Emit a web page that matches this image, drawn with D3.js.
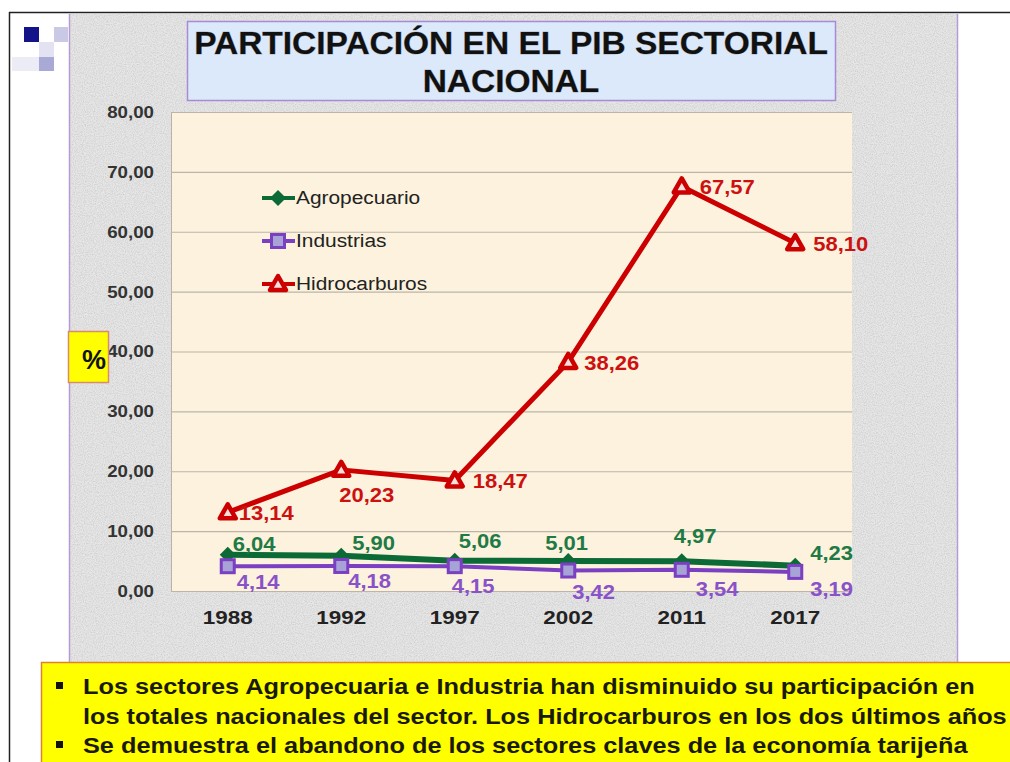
<!DOCTYPE html>
<html>
<head>
<meta charset="utf-8">
<script src="https://cdn.jsdelivr.net/npm/d3@7"></script>
<style>
  body { margin: 0; background: #fff; }
  svg { display: block; font-family: "Liberation Sans", Arial, sans-serif; }
</style>
</head>
<body>
<div id="chart"></div>
<script>
const years = ["1988", "1992", "1997", "2002", "2011", "2017"];
const agropecuario = [6.04, 5.90, 5.06, 5.01, 4.97, 4.23];
const industrias = [4.14, 4.18, 4.15, 3.42, 3.54, 3.19];
const hidrocarburos = [13.14, 20.23, 18.47, 38.26, 67.57, 58.10];
const yTicks = [0, 10, 20, 30, 40, 50, 60, 70, 80];
const titleLines = ["PARTICIPACIÓN EN EL PIB SECTORIAL", "NACIONAL"];
const notes = [
  ["Los sectores Agropecuaria e Industria han disminuido su participación en",
   "los totales nacionales del sector. Los Hidrocarburos en los dos últimos años"],
  ["Se demuestra el abandono de los sectores claves de la economía tarijeña"]
];

// label nudges (px) per point, picked by eye
const nudgeAgro = [[5, -11], [11, -13], [4, -20], [-23, -18], [-8, -25], [15, -13]];
const nudgeInd = [[9, 16], [7, 15], [-3, 20], [4, 21], [14, 19], [15, 17]];
const nudgeHid = [[11, 1], [-2, 25], [18, 1], [16, 1], [18, 1], [18, 1]];

const W = 1010, H = 762;
const locale = d3.formatLocale({ decimal: ",", thousands: ".", grouping: [3], currency: ["", ""] });
const fmt = locale.format(".2f");

// the source slide is a bit wider than tall, text reads stretched
function stretch(sel, sx) {
  sel.each(function () {
    const len = this.getComputedTextLength();
    d3.select(this).attr("textLength", len * sx).attr("lengthAdjust", "spacingAndGlyphs");
  });
}

const svg = d3.select("#chart").append("svg").attr("width", W).attr("height", H);

const defs = svg.append("defs");
const grain = defs.append("filter").attr("id", "grain").attr("x", 0).attr("y", 0).attr("width", 1).attr("height", 1);
grain.append("feTurbulence").attr("type", "fractalNoise").attr("baseFrequency", 0.9).attr("numOctaves", 2).attr("seed", 3).attr("result", "n");
grain.append("feColorMatrix").attr("in", "n").attr("type", "matrix")
  .attr("values", "0 0 0 0 0.6  0 0 0 0 0.6  0 0 0 0 0.6  0 0 0 -1.8 1.15").attr("result", "g");
grain.append("feComposite").attr("in", "g").attr("in2", "SourceGraphic").attr("operator", "in").attr("result", "g2");
grain.append("feMerge").call(m => { m.append("feMergeNode").attr("in", "SourceGraphic"); m.append("feMergeNode").attr("in", "g2"); });

// slide frame
svg.append("line").attr("x1", 9).attr("x2", W).attr("y1", 12.5).attr("y2", 12.5).attr("stroke", "#222").attr("stroke-width", 1.5);
svg.append("line").attr("x1", 9.5).attr("x2", 9.5).attr("y1", 12).attr("y2", H).attr("stroke", "#222").attr("stroke-width", 1.5);

// logo squares
[[24, 27, 15, 15, "#14148a"], [54, 27, 14, 15, "#c9c9e6"], [39, 42, 15, 15, "#e2e2f2"],
 [39, 57, 15, 14, "#a9a9d6"], [12, 57, 27, 14, "#ececf6"]].forEach(s => {
  svg.append("rect").attr("x", s[0]).attr("y", s[1]).attr("width", s[2]).attr("height", s[3]).attr("fill", s[4]);
});

// grey textured panel
svg.append("rect").attr("x", 69).attr("y", 14).attr("width", 888).attr("height", 650)
  .attr("fill", "#e6e6e6").attr("filter", "url(#grain)");
svg.append("line").attr("x1", 69.5).attr("x2", 69.5).attr("y1", 14).attr("y2", 664).attr("stroke", "#b49ad8").attr("stroke-width", 1.5);
svg.append("line").attr("x1", 957.5).attr("x2", 957.5).attr("y1", 14).attr("y2", 664).attr("stroke", "#b49ad8").attr("stroke-width", 1.5);

// title box
svg.append("rect").attr("x", 187.5).attr("y", 21.5).attr("width", 648).attr("height", 79)
  .attr("fill", "#dce9fa").attr("stroke", "#a98ad6").attr("stroke-width", 1.5);
svg.append("g").selectAll("text").data(titleLines).join("text")
  .attr("x", 511).attr("y", (d, i) => 54 + i * 38)
  .attr("text-anchor", "middle").attr("font-size", 31).attr("font-weight", "bold").attr("fill", "#111")
  .style("paint-order", "stroke").attr("stroke", "rgba(0,0,0,0.25)").attr("stroke-width", 1)
  .text(d => d)
  .call(stretch, 1.08);

// plot
const margin = { top: 112, right: 158, bottom: 171, left: 171 };
const width = W - margin.left - margin.right;
const height = H - margin.top - margin.bottom;
const g = svg.append("g").attr("transform", `translate(${margin.left},${margin.top})`);

const x = d3.scaleBand().domain(years).range([0, width]);
const y = d3.scaleLinear().domain([0, 80]).range([height, 0]);
const cx = d => x(d) + x.bandwidth() / 2;

g.append("rect").attr("width", width).attr("height", height).attr("fill", "#fcf2dd");

const yAxis = g.append("g")
  .call(d3.axisLeft(y).tickValues(yTicks).tickSize(-width).tickPadding(17).tickFormat(fmt));
yAxis.select(".domain").attr("stroke", "#b9b2a6");
yAxis.selectAll(".tick line").attr("stroke", "#bcb5a8").attr("stroke-width", 1.2);
yAxis.selectAll(".tick text").attr("font-size", 17).attr("font-weight", "bold").attr("fill", "#333")
  .attr("font-family", "Liberation Sans, Arial, sans-serif")
  .call(stretch, 1.1);

const xAxis = g.append("g").attr("transform", `translate(0,${height})`)
  .call(d3.axisBottom(x).tickSize(0).tickPadding(20));
xAxis.select(".domain").remove();
xAxis.selectAll(".tick text").attr("font-size", 19).attr("font-weight", "bold").attr("fill", "#222")
  .attr("font-family", "Liberation Sans, Arial, sans-serif")
  .call(stretch, 1.18);

const series = [
  { name: "Agropecuario", values: agropecuario, color: "#0b6a36", label: "#1f7a45", width: 6, shape: "diamond", nudge: nudgeAgro },
  { name: "Industrias", values: industrias, color: "#7b3fc2", label: "#8a52c8", width: 4, shape: "square", nudge: nudgeInd },
  { name: "Hidrocarburos", values: hidrocarburos, color: "#cc0000", label: "#cc1111", width: 5, shape: "triangle", nudge: nudgeHid }
];

function marker(sel, s, px, py) {
  if (s.shape === "diamond") {
    sel.append("path").attr("d", `M${px},${py - 8}L${px + 8},${py}L${px},${py + 8}L${px - 8},${py}Z`)
      .attr("fill", s.color);
  } else if (s.shape === "square") {
    sel.append("rect").attr("x", px - 6.5).attr("y", py - 6.5).attr("width", 13).attr("height", 13)
      .attr("fill", "#a7a3d6").attr("stroke", s.color).attr("stroke-width", 3);
  } else {
    sel.append("path").attr("d", `M${px},${py - 8}L${px + 8},${py + 6}L${px - 8},${py + 6}Z`)
      .attr("fill", "#f6e0dc").attr("stroke", s.color).attr("stroke-width", 4.5).attr("stroke-linejoin", "round");
  }
}

const line = d3.line().x((d, i) => cx(years[i])).y(d => y(d));

series.forEach(s => {
  const sg = g.append("g");
  sg.append("path").attr("d", line(s.values)).attr("fill", "none")
    .attr("stroke", s.color).attr("stroke-width", s.width).attr("stroke-linejoin", "round");
  s.values.forEach((v, i) => marker(sg, s, cx(years[i]), y(v)));
  sg.selectAll("text").data(s.values).join("text")
    .attr("x", (d, i) => cx(years[i]) + s.nudge[i][0])
    .attr("y", (d, i) => y(d) + s.nudge[i][1] + 7)
    .attr("font-size", 20).attr("font-weight", "bold").attr("fill", s.label)
    .text(d => fmt(d))
    .call(stretch, 1.1);
});

// legend
const lg = g.append("g").attr("transform", "translate(91,86)");
series.forEach((s, i) => {
  const row = lg.append("g").attr("transform", `translate(0,${i * 43})`);
  row.append("line").attr("x1", 0).attr("x2", 33).attr("stroke", s.color).attr("stroke-width", 4);
  marker(row.append("g"), s, 16, 0);
  row.append("text").attr("x", 34).attr("y", 6).attr("font-size", 18).attr("fill", "#222").text(s.name)
    .call(stretch, 1.16);
});

// % box
svg.append("rect").attr("x", 68.5).attr("y", 331.5).attr("width", 40).attr("height", 51)
  .attr("fill", "#ffff00").attr("stroke", "#d98c6a").attr("stroke-width", 1.5);
svg.append("text").attr("x", 94).attr("y", 369).attr("text-anchor", "middle")
  .attr("font-size", 27).attr("font-weight", "bold").attr("fill", "#111").text("%");

// notes box
svg.append("rect").attr("x", 41.5).attr("y", 662.5).attr("width", W).attr("height", 110)
  .attr("fill", "#ffff00").attr("stroke", "#e0822c").attr("stroke-width", 1.5);
let ly = 694;
notes.forEach(para => {
  svg.append("rect").attr("x", 56).attr("y", ly - 12).attr("width", 7).attr("height", 7).attr("fill", "#111");
  para.forEach(t => {
    svg.append("text").attr("x", 83).attr("y", ly).attr("font-size", 22).attr("font-weight", "bold")
      .attr("fill", "#1a1a00").text(t)
      .call(stretch, 1.15);
    ly += 29.5;
  });
});
</script>
</body>
</html>
